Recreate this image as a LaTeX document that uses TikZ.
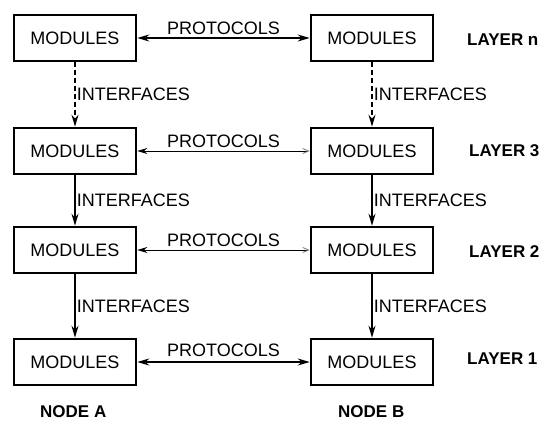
\documentclass[tikz,border=0pt]{standalone}
\usepackage{fontspec}
\setmainfont{Liberation Sans}
\usetikzlibrary{arrows.meta}
\begin{document}
\begin{tikzpicture}[x=1pt,y=-1pt,
  modbox/.style={draw,line width=2.6pt,minimum width=122pt,minimum height=46pt,
    inner sep=0pt,font=\fontsize{18}{20}\selectfont},
  iflabel/.style={anchor=west,inner sep=1pt,font=\fontsize{18}{20}\selectfont},
  prlabel/.style={above,inner sep=2pt,font=\fontsize{18}{20}\selectfont},
  laylabel/.style={anchor=west,inner sep=0pt,font=\fontsize{17}{20}\selectfont\bfseries},
  strong/.style={line width=1.4pt,{Stealth[length=12pt,width=7pt]}-{Stealth[length=12pt,width=7pt]}},
  weak/.style={line width=0.8pt,{Stealth[length=10pt,width=6pt]}-{Straight Barb[length=6pt,width=5pt,black!55]}},
  down/.style={line width=1.6pt,-{Stealth[length=12pt,width=7pt]}},
  downdash/.style={down,dash pattern=on 5pt off 3pt}]
\useasboundingbox (0,0) rectangle (548,423);

% modules of node A and node B, one row per layer
\node[modbox] (an) at (75,38)  {MODULES};
\node[modbox] (bn) at (372,38) {MODULES};
\node[modbox] (a3) at (75,151) {MODULES};
\node[modbox] (b3) at (372,151) {MODULES};
\node[modbox] (a2) at (75,250) {MODULES};
\node[modbox] (b2) at (372,250) {MODULES};
\node[modbox] (a1) at (75,362) {MODULES};
\node[modbox] (b1) at (372,362) {MODULES};

% peer protocols
\draw[strong] (an) -- node[prlabel,yshift=1pt] {PROTOCOLS} (bn);
\draw[weak]   (a3) -- node[prlabel,yshift=1pt] {PROTOCOLS} (b3);
\draw[weak]   (a2) -- node[prlabel,yshift=1pt] {PROTOCOLS} (b2);
\draw[strong] (a1) -- node[prlabel,yshift=3pt] {PROTOCOLS} (b1);

% interfaces between layers
\draw[downdash] (an) -- node[iflabel] {INTERFACES} (a3);
\draw[downdash] (bn) -- node[iflabel] {INTERFACES} (b3);
\draw[down] (a3) -- node[iflabel] {INTERFACES} (a2);
\draw[down] (b3) -- node[iflabel] {INTERFACES} (b2);
\draw[down] (a2) -- node[iflabel] {INTERFACES} (a1);
\draw[down] (b2) -- node[iflabel] {INTERFACES} (b1);

% layer and node names
\node[laylabel] (ln) at (467,40)  {LAYER n};
\node[laylabel] (l3) at (469,151) {LAYER 3};
\node[laylabel] (l2) at (469,252) {LAYER 2};
\node[laylabel] (l1) at (467,359) {LAYER 1};
\node[laylabel] (na) at (40,412)  {NODE A};
\node[laylabel] (nb) at (338,412) {NODE B};
\end{tikzpicture}
\end{document}
